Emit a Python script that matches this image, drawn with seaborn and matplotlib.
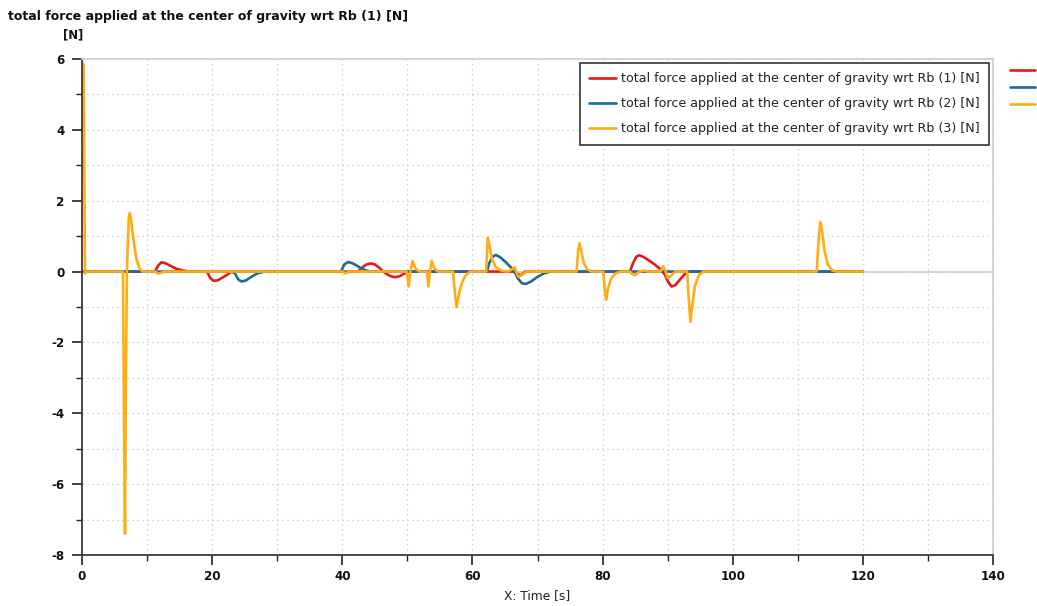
import numpy as np
import pandas as pd
import seaborn as sns
import matplotlib.pyplot as plt
from matplotlib.ticker import MultipleLocator
from matplotlib.lines import Line2D

# ---- data -----------------------------------------------------------------
series_names = [
    "total force applied at the center of gravity wrt Rb (1) [N]",
    "total force applied at the center of gravity wrt Rb (2) [N]",
    "total force applied at the center of gravity wrt Rb (3) [N]",
]
series_colors = ["#e8191e", "#1a6d96", "#ffad14"]

t1 = [0, 11.2, 11.7, 12.2, 12.8, 13.5, 14.5, 15.5, 16.5,
      19.2, 19.7, 20.2, 20.8, 21.5, 22.3, 23.0,
      42.4, 43.1, 43.7, 44.4, 45.0, 45.6, 46.3, 47.0, 47.6, 48.1, 48.8, 49.5, 50.1,
      66.5, 67.0, 67.5, 68.1,
      84.2, 84.7, 85.2, 85.6, 86.2, 87.0, 88.0, 89.0, 89.6, 90.1, 90.6, 91.2, 92.0, 93.0,
      120]
f1 = [0, 0, 0.17, 0.26, 0.24, 0.17, 0.08, 0.03, 0,
      0, -0.18, -0.26, -0.25, -0.18, -0.09, 0,
      0, 0.12, 0.2, 0.23, 0.2, 0.12, 0.0, -0.09, -0.14, -0.16, -0.13, -0.06, 0,
      0, -0.08, -0.1, 0,
      0, 0.25, 0.42, 0.46, 0.42, 0.33, 0.2, 0.05, -0.1, -0.3, -0.42, -0.38, -0.2, 0,
      0]

t2 = [0, 23.0, 23.5, 24.0, 24.5, 25.2, 26.0, 27.0, 28.0,
      39.8, 40.3, 40.9, 41.5, 42.3, 43.0, 43.8, 44.5,
      62.2, 62.6, 63.1, 63.6, 64.3, 65.2, 66.0, 66.6, 67.0, 67.6, 68.2, 69.0, 70.0, 71.0, 72.0,
      120]
f2 = [0, 0, -0.05, -0.22, -0.28, -0.25, -0.15, -0.05, 0,
      0, 0.2, 0.27, 0.24, 0.16, 0.08, 0.02, 0,
      0, 0.25, 0.42, 0.47, 0.4, 0.25, 0.1, -0.05, -0.2, -0.33, -0.35, -0.28, -0.15, -0.05, 0,
      0]

t3 = [0, 0.25, 0.45, 0.8, 6.3, 6.45, 6.6, 6.75, 6.9, 7.0, 7.2, 7.35, 7.55, 7.9, 8.3, 8.8, 9.3,
      11.3, 11.7, 12.2, 12.8,
      40.0, 40.5, 41.0,
      49.9, 50.2, 50.45, 50.8, 51.2, 51.8,
      53.0, 53.25, 53.45, 53.75, 54.1, 54.7,
      57.0, 57.3, 57.55, 57.8, 58.3, 58.9, 59.6,
      62.1, 62.35, 62.6, 63.0, 63.6, 64.5, 65.5, 66.2, 66.5, 66.8, 67.1, 67.6, 68.3,
      76.0, 76.25, 76.45, 76.7, 77.1, 77.6, 78.3,
      80.1, 80.35, 80.55, 80.8, 81.3, 82.0, 82.8,
      84.2, 84.6, 85.0, 85.5, 86.2, 87.0,
      88.9, 89.3, 89.6, 90.0, 90.5, 91.2,
      93.0, 93.25, 93.5, 93.75, 94.2, 94.8, 95.5,
      112.9, 113.2, 113.45, 113.7, 114.1, 114.6, 115.3, 116.0,
      120]
f3 = [5.9, 5.85, -0.05, 0, 0, -4.0, -7.4, -3.0, 0, 0.6, 1.55, 1.65, 1.45, 0.9, 0.4, 0.1, 0.0,
      0, -0.06, -0.03, 0,
      0, -0.05, 0,
      0, -0.42, 0, 0.3, 0.1, 0,
      0, -0.42, 0, 0.3, 0.1, 0,
      0, -0.6, -1.0, -0.75, -0.35, -0.12, 0,
      0, 0.95, 0.75, 0.35, 0.12, 0.02, 0, 0.08, 0.12, -0.05, -0.15, -0.1, 0,
      0, 0.6, 0.8, 0.6, 0.25, 0.07, 0,
      0, -0.55, -0.8, -0.5, -0.2, -0.05, 0,
      0, -0.08, -0.1, -0.02, 0.03, 0,
      0, 0.15, 0.05, -0.18, -0.12, 0,
      0, -0.8, -1.42, -1.0, -0.4, -0.1, 0,
      0, 0.9, 1.4, 1.2, 0.6, 0.2, 0.03, 0,
      0]

x_ticks = [0, 20, 40, 60, 80, 100, 120, 140]
y_ticks = [-8, -6, -4, -2, 0, 2, 4, 6]

# ---- long-form table ------------------------------------------------------
frames = []
for name, t, f in zip(series_names, [t1, t2, t3], [f1, f2, f3]):
    frames.append(pd.DataFrame({"time": t, "force": f, "series": name}))
df = pd.concat(frames, ignore_index=True)

# ---- figure ---------------------------------------------------------------
sns.set_style("white")
plt.rcParams["font.family"] = ["DejaVu Sans"]
plt.rcParams["axes.unicode_minus"] = False

fig = plt.figure(figsize=(10.37, 6.06), dpi=100)
ax = fig.add_axes([0.0791, 0.0842, 0.8785, 0.8184])

sns.lineplot(data=df, x="time", y="force", hue="series", hue_order=series_names,
             palette=series_colors, estimator=None, sort=False, linewidth=1.9,
             ax=ax, legend=False)

ax.axhline(0, color="#cfcfcf", linewidth=1.2, zorder=0)

ax.set_xlim(0, 140)
ax.set_ylim(-8, 6)
ax.set_xticks(x_ticks)
ax.set_yticks(y_ticks)
ax.xaxis.set_minor_locator(MultipleLocator(10))
ax.yaxis.set_minor_locator(MultipleLocator(1))
ax.grid(which="both", linestyle=(0, (1, 3)), color="#c4c4c4", linewidth=0.9)
ax.set_axisbelow(True)

for side in ["left", "bottom"]:
    ax.spines[side].set_color("#3a3a3a")
    ax.spines[side].set_linewidth(1.3)
for side in ["top", "right"]:
    ax.spines[side].set_color("#d0d0d0")
    ax.spines[side].set_linewidth(1.3)

ax.tick_params(which="major", direction="out", length=7.5, width=1.2, color="#222222",
               labelsize=8.6, labelcolor="#111111", bottom=True, left=True)
ax.tick_params(which="minor", direction="out", length=4, width=1.0, color="#222222",
               bottom=True, left=True)
ax.tick_params(axis="y", which="major", pad=5)
ax.tick_params(axis="x", which="major", pad=3)
for lab in ax.get_xticklabels() + ax.get_yticklabels():
    lab.set_fontweight("bold")

ax.set_xlabel("X: Time [s]", fontsize=8.8, labelpad=5, color="#222222")
ax.set_ylabel("")

fig.text(0.008, 0.972, "total force applied at the center of gravity wrt Rb (1) [N]",
         fontsize=9, fontweight="bold", ha="left", va="center", color="#111111")
fig.text(0.0605, 0.942, "[N]", fontsize=8.4, fontweight="bold", ha="left", va="center",
         color="#111111")

# legend inside the plot area
handles = [Line2D([], [], color=c, linewidth=1.9) for c in series_colors]
leg = ax.legend(handles, series_names, loc="upper right", bbox_to_anchor=(0.9985, 0.998),
                fontsize=9.1, frameon=True, fancybox=False, framealpha=1,
                edgecolor="#333333", handlelength=2.1, handletextpad=0.4,
                labelspacing=0.95, borderpad=0.75, borderaxespad=0.2)
leg.get_frame().set_linewidth(1.2)
for txt in leg.get_texts():
    txt.set_color("#222222")
ax.add_artist(leg)

# colour keys beside the plot area
keys = ax.legend(handles, ["", "", ""], loc="upper left", bbox_to_anchor=(1.016, 0.99),
                 frameon=False, handlelength=2.2, handletextpad=0, labelspacing=0.62,
                 fontsize=8.1, borderaxespad=0, borderpad=0.2)

fig.savefig("out.png", dpi=100)
